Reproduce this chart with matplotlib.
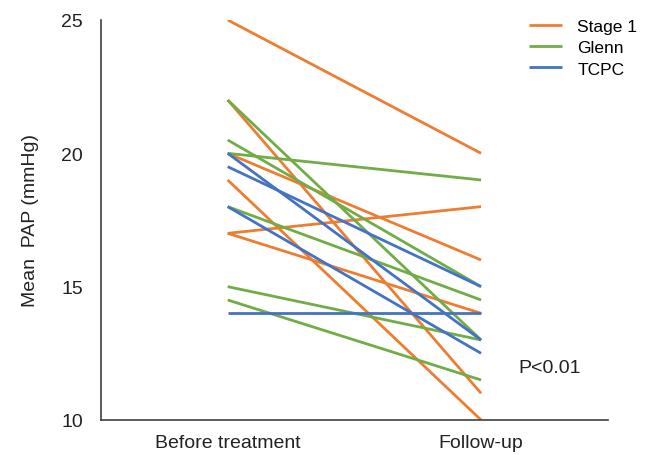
import matplotlib
matplotlib.use("Agg")
import matplotlib.pyplot as plt

# mean PAP (mmHg) per patient, before treatment -> follow-up
timepoints = ["Before treatment", "Follow-up"]

stage1_before = [25, 22, 20, 19, 17, 17]
stage1_after = [20, 11, 16, 10, 18, 14]

glenn_before = [22, 20.5, 20, 18, 15, 14.5]
glenn_after = [13, 15, 19, 14.5, 13, 11.5]

tcpc_before = [20, 19.5, 18, 14]
tcpc_after = [13, 15, 12.5, 14]

groups = [
    ("Stage 1", "#ED7D31", stage1_before, stage1_after),
    ("Glenn", "#70AD47", glenn_before, glenn_after),
    ("TCPC", "#4472C4", tcpc_before, tcpc_after),
]

plt.rcParams["font.family"] = ["Liberation Sans", "DejaVu Sans"]

fig = plt.figure(figsize=(6.5, 4.56), dpi=100)
ax = fig.add_axes([0.1554, 0.0768, 0.7796, 0.8772])

for name, color, before, after in groups:
    for i, (b, a) in enumerate(zip(before, after)):
        ax.plot([0, 1], [b, a], color=color, lw=2.0,
                solid_capstyle="butt", label=name if i == 0 else None)

ax.set_xlim(-0.5, 1.5)
ax.set_ylim(10, 25)
ax.set_xticks([0, 1])
ax.set_xticklabels(timepoints, fontsize=14)
ax.set_yticks([10, 15, 20, 25])
ax.tick_params(axis="y", length=0, pad=13, labelsize=14, colors="#222222")
ax.tick_params(axis="x", length=0, pad=10, labelsize=14, colors="#222222")
ax.set_ylabel("Mean  PAP (mmHg)", fontsize=14, color="#222222", labelpad=16)

ax.spines["top"].set_visible(False)
ax.spines["right"].set_visible(False)
for s in ("left", "bottom"):
    ax.spines[s].set_color("#404040")
    ax.spines[s].set_linewidth(1.2)

ax.text(1.27, 11.95, "P<0.01", fontsize=14, ha="center", va="center",
        color="#222222")

ax.legend(loc="upper left", bbox_to_anchor=(0.83, 1.02), frameon=False,
          fontsize=12.5, handlelength=1.9, handletextpad=0.9,
          labelspacing=0.35, borderaxespad=0)

fig.savefig("out.png", dpi=100)
